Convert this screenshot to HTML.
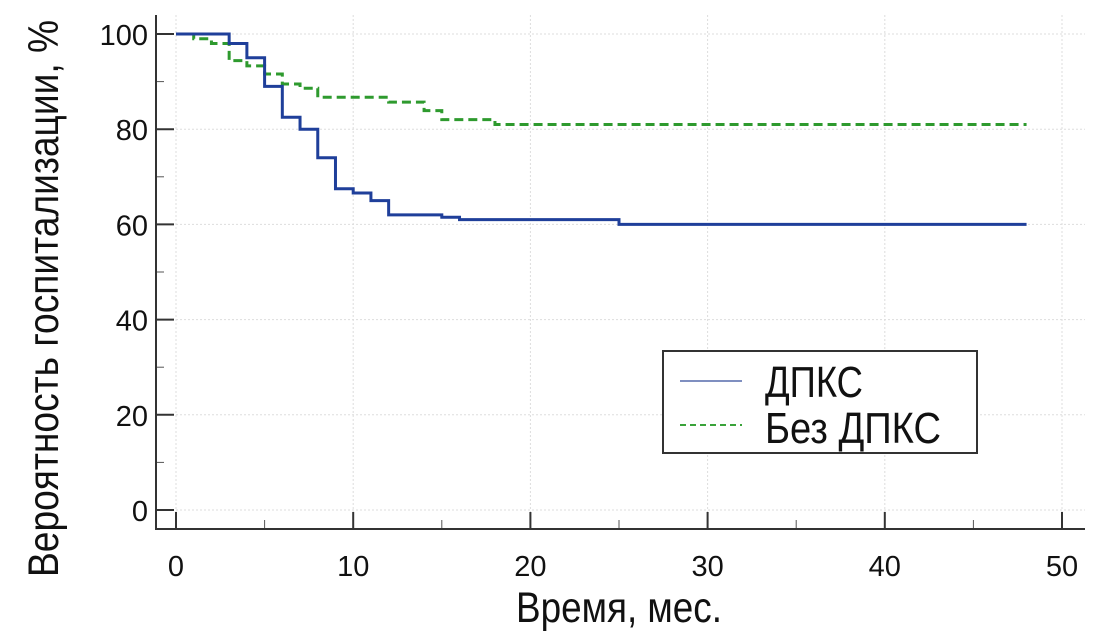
<!DOCTYPE html>
<html><head><meta charset="utf-8"><style>
body{margin:0;background:#fff;width:1108px;height:643px;overflow:hidden}
svg{display:block}
text{font-family:"Liberation Sans Narrow","Liberation Sans",sans-serif;fill:#111}
.tick{font-family:"Liberation Sans",sans-serif;font-size:29px}
</style></head><body>
<svg id="chart" width="1108" height="643">
<g id="grid"></g>
<g id="axes"></g>
<g id="series"></g>
<text x="516" y="622" font-size="43" textLength="206" lengthAdjust="spacingAndGlyphs">Время, мес.</text>
<text transform="translate(58,577) rotate(-90)" font-size="43" textLength="557" lengthAdjust="spacingAndGlyphs">Вероятность госпитализации, %</text>
<g>
<rect x="663" y="351" width="314" height="102" fill="#fff" stroke="#333" stroke-width="2"/>
<line x1="680" y1="381" x2="742" y2="381" stroke="#7f8fc0" stroke-width="2"/>
<text x="765" y="397" font-size="44" textLength="98" lengthAdjust="spacingAndGlyphs">ДПКС</text>
<line x1="680" y1="425" x2="742" y2="425" stroke="#3aa33a" stroke-width="2" stroke-dasharray="6,4"/>
<text x="765" y="443" font-size="44" textLength="176" lengthAdjust="spacingAndGlyphs">Без ДПКС</text>
</g>
</svg>
<script>
const xTicks=[0,10,20,30,40,50];
const yTicks=[0,20,40,60,80,100];
const blueT=[0,3,4,5,6,7,8,9,10,11,12,15,16,25,48];
const blueS=[100,98,95,89,82.5,80,74,67.5,66.6,65,62,61.5,61,60,60];
const greenT=[0,1,2,3,4,5,6,7,8,12,14,15,18,48];
const greenS=[100,99,98,94.4,93.3,91.6,89.5,88.6,86.7,85.7,83.9,82,81,81];
const NS='http://www.w3.org/2000/svg';
function X(t){return 176+t*17.72;}
function Y(v){return 510-v*4.76;}
function mk(tag,attrs,parent){const e=document.createElementNS(NS,tag);for(const k in attrs)e.setAttribute(k,attrs[k]);parent.appendChild(e);return e;}
const grid=document.getElementById('grid'),axes=document.getElementById('axes'),ser=document.getElementById('series');
xTicks.forEach(t=>{
 const l=mk('line',{x1:X(t),x2:X(t),y1:15,y2:529,stroke:'#ddd','stroke-dasharray':'2,2'},grid);
 
 
 const tk=mk('line',{x1:X(t),x2:X(t),y1:529,y2:512,stroke:'#333','stroke-width':2},axes);
 
 
 const mt=mk('line',{x1:X(t+5),x2:X(t+5),y1:529,y2:520,stroke:'#555','stroke-width':1},axes);
 
 
 const tx=mk('text',{x:X(t),y:576,'text-anchor':'middle',class:'tick'},axes);
 tx.textContent=t;
 
 
});
yTicks.forEach(v=>{
 const l=mk('line',{x1:156,x2:1085,y1:Y(v),y2:Y(v),stroke:'#ddd','stroke-dasharray':'2,2'},grid);
 
 
 const tk=mk('line',{x1:156,x2:174,y1:Y(v),y2:Y(v),stroke:'#333','stroke-width':2},axes);
 
 
 if(v<100){const mt=mk('line',{x1:156,x2:164,y1:Y(v+10),y2:Y(v+10),stroke:'#555','stroke-width':1},axes);
 
 }
 const tx=mk('text',{x:148,y:Y(v)+11,'text-anchor':'end',class:'tick'},axes);
 tx.textContent=v;
 
 
});
const sp1=mk('line',{x1:156,x2:156,y1:15,y2:530,stroke:'#333','stroke-width':2},axes);


const sp2=mk('line',{x1:155,x2:1085,y1:529,y2:529,stroke:'#333','stroke-width':2},axes);


function stepPath(T,S){let d='M'+X(T[0])+','+Y(S[0]);for(let i=1;i<T.length;i++){d+=' H'+X(T[i])+' V'+Y(S[i]);}return d;}
const g=mk('path',{d:stepPath(greenT,greenS),fill:'none',stroke:'#2e9a2e','stroke-width':3,'stroke-dasharray':'9,5'},ser);


const b=mk('path',{d:stepPath(blueT,blueS),fill:'none',stroke:'#1f3f9a','stroke-width':3},ser);


</script>
</body></html>
